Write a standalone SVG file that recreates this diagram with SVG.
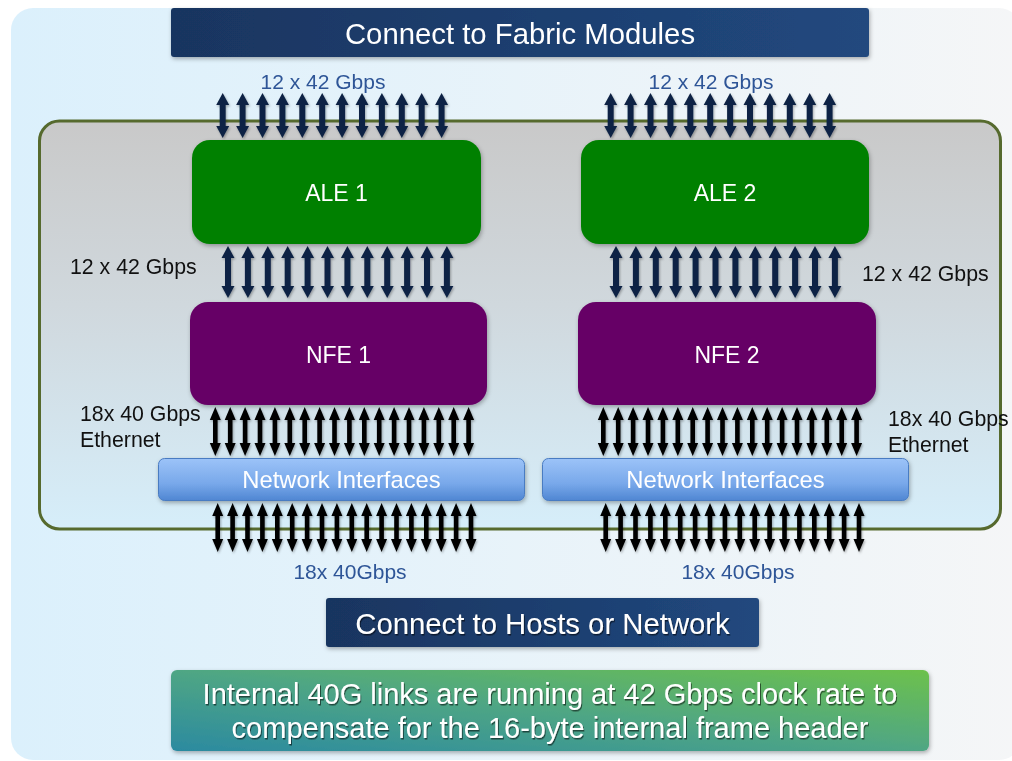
<svg xmlns="http://www.w3.org/2000/svg" width="1012" height="761" viewBox="0 0 1012 761">
  <defs>
    <linearGradient id="bgGrad" x1="0" y1="0" x2="1" y2="0">
      <stop offset="0" stop-color="#dbf0fc"/>
      <stop offset="1" stop-color="#f5f6f7"/>
    </linearGradient>
    <linearGradient id="chassisGrad" x1="0" y1="0" x2="0" y2="1">
      <stop offset="0" stop-color="#c9c9c9"/>
      <stop offset="0.45" stop-color="#d0d8dd"/>
      <stop offset="1" stop-color="#d6eefa"/>
    </linearGradient>
    <linearGradient id="navyGrad" x1="0" y1="0" x2="1" y2="0">
      <stop offset="0" stop-color="#193560"/>
      <stop offset="1" stop-color="#21487e"/>
    </linearGradient>
    <linearGradient id="niGrad" x1="0" y1="0" x2="0" y2="1">
      <stop offset="0" stop-color="#9cc3f8"/>
      <stop offset="0.6" stop-color="#78a8ea"/>
      <stop offset="1" stop-color="#4f86d2"/>
    </linearGradient>
    <linearGradient id="noteGrad" x1="0" y1="1" x2="1" y2="0">
      <stop offset="0" stop-color="#2b8aa0"/>
      <stop offset="0.5" stop-color="#4fa684"/>
      <stop offset="1" stop-color="#6dc14c"/>
    </linearGradient>
    <filter id="shadow" x="-10%" y="-10%" width="120%" height="130%">
      <feDropShadow dx="1" dy="2" stdDeviation="2" flood-color="#000" flood-opacity="0.3"/>
    </filter>
    <filter id="arrowShadow" x="-50%" y="-20%" width="200%" height="140%">
      <feDropShadow dx="1" dy="1.5" stdDeviation="1.2" flood-color="#000" flood-opacity="0.3"/>
    </filter>
    <filter id="textShadow" x="-5%" y="-20%" width="110%" height="150%">
      <feDropShadow dx="1" dy="1.5" stdDeviation="0.6" flood-color="#000" flood-opacity="0.55"/>
    </filter>
    <!-- double-headed link arrows -->
    <path id="arrowTop" d="M0,0 L6.5,12 L3,12 L3,33 L6.5,33 L0,45 L-6.5,33 L-3,33 L-3,12 L-6.5,12 Z"/>
    <path id="arrowMid" d="M0,0 L6.5,12 L3,12 L3,40 L6.5,40 L0,52 L-6.5,40 L-3,40 L-3,12 L-6.5,12 Z"/>
    <path id="arrowEth" d="M0,0 L5.5,13 L2.3,13 L2.3,36 L5.5,36 L0,49 L-5.5,36 L-2.3,36 L-2.3,13 L-5.5,13 Z"/>
  </defs>
  <style>
    .lbl { font-family: "Liberation Sans", Arial, sans-serif; }
    .white { fill: #ffffff; }
    .blue { fill: #2e5597; font-size: 21px; }
    .black { fill: #111111; font-size: 21.3px; }
    .chip { font-size: 23px; }
    .navyArrow { fill: #0e2444; }
    .blackArrow { fill: #000000; }
  </style>

  <!-- page background panel -->
  <rect x="11" y="8" width="1010" height="752" rx="22" fill="url(#bgGrad)"/>

  <!-- line card chassis -->
  <g id="chassis">
    <rect x="39.5" y="121" width="961" height="408" rx="20" fill="url(#chassisGrad)" stroke="#566a2e" stroke-width="3"/>
  </g>

  <!-- fabric module header -->
  <g id="fabric-header" filter="url(#shadow)">
    <rect x="171" y="8" width="698" height="49" rx="3" fill="url(#navyGrad)"/>
    <text class="lbl white" x="520" y="44" font-size="29.3" text-anchor="middle">Connect to Fabric Modules</text>
  </g>

  <!-- connectors -->
  <g id="connectors">
    <g class="navyArrow" filter="url(#arrowShadow)">
      <!-- fabric to ALE 1 -->
      <use href="#arrowTop" x="222.7" y="93"/><use href="#arrowTop" x="242.6" y="93"/><use href="#arrowTop" x="262.5" y="93"/><use href="#arrowTop" x="282.4" y="93"/><use href="#arrowTop" x="302.3" y="93"/><use href="#arrowTop" x="322.2" y="93"/><use href="#arrowTop" x="342.1" y="93"/><use href="#arrowTop" x="362.0" y="93"/><use href="#arrowTop" x="381.9" y="93"/><use href="#arrowTop" x="401.8" y="93"/><use href="#arrowTop" x="421.7" y="93"/><use href="#arrowTop" x="441.6" y="93"/>
      <!-- fabric to ALE 2 -->
      <use href="#arrowTop" x="610.7" y="93"/><use href="#arrowTop" x="630.6" y="93"/><use href="#arrowTop" x="650.5" y="93"/><use href="#arrowTop" x="670.4" y="93"/><use href="#arrowTop" x="690.3" y="93"/><use href="#arrowTop" x="710.2" y="93"/><use href="#arrowTop" x="730.1" y="93"/><use href="#arrowTop" x="750.0" y="93"/><use href="#arrowTop" x="769.9" y="93"/><use href="#arrowTop" x="789.8" y="93"/><use href="#arrowTop" x="809.7" y="93"/><use href="#arrowTop" x="829.6" y="93"/>
      <!-- ALE 1 to NFE 1 -->
      <use href="#arrowMid" x="228" y="246"/><use href="#arrowMid" x="247.9" y="246"/><use href="#arrowMid" x="267.8" y="246"/><use href="#arrowMid" x="287.7" y="246"/><use href="#arrowMid" x="307.6" y="246"/><use href="#arrowMid" x="327.5" y="246"/><use href="#arrowMid" x="347.4" y="246"/><use href="#arrowMid" x="367.3" y="246"/><use href="#arrowMid" x="387.2" y="246"/><use href="#arrowMid" x="407.1" y="246"/><use href="#arrowMid" x="427.0" y="246"/><use href="#arrowMid" x="446.9" y="246"/>
      <!-- ALE 2 to NFE 2 -->
      <use href="#arrowMid" x="616" y="246"/><use href="#arrowMid" x="635.9" y="246"/><use href="#arrowMid" x="655.8" y="246"/><use href="#arrowMid" x="675.7" y="246"/><use href="#arrowMid" x="695.6" y="246"/><use href="#arrowMid" x="715.5" y="246"/><use href="#arrowMid" x="735.4" y="246"/><use href="#arrowMid" x="755.3" y="246"/><use href="#arrowMid" x="775.2" y="246"/><use href="#arrowMid" x="795.1" y="246"/><use href="#arrowMid" x="815.0" y="246"/><use href="#arrowMid" x="834.9" y="246"/>
    </g>
    <g class="blackArrow" filter="url(#arrowShadow)">
      <!-- NFE 1 to network interfaces -->
      <use href="#arrowEth" x="215.3" y="407"/><use href="#arrowEth" x="230.2" y="407"/><use href="#arrowEth" x="245.1" y="407"/><use href="#arrowEth" x="260.0" y="407"/><use href="#arrowEth" x="274.9" y="407"/><use href="#arrowEth" x="289.8" y="407"/><use href="#arrowEth" x="304.7" y="407"/><use href="#arrowEth" x="319.6" y="407"/><use href="#arrowEth" x="334.5" y="407"/><use href="#arrowEth" x="349.4" y="407"/><use href="#arrowEth" x="364.3" y="407"/><use href="#arrowEth" x="379.2" y="407"/><use href="#arrowEth" x="394.1" y="407"/><use href="#arrowEth" x="409.0" y="407"/><use href="#arrowEth" x="423.9" y="407"/><use href="#arrowEth" x="438.8" y="407"/><use href="#arrowEth" x="453.7" y="407"/><use href="#arrowEth" x="468.6" y="407"/>
      <!-- NFE 2 to network interfaces -->
      <use href="#arrowEth" x="603.3" y="407"/><use href="#arrowEth" x="618.2" y="407"/><use href="#arrowEth" x="633.1" y="407"/><use href="#arrowEth" x="648.0" y="407"/><use href="#arrowEth" x="662.9" y="407"/><use href="#arrowEth" x="677.8" y="407"/><use href="#arrowEth" x="692.7" y="407"/><use href="#arrowEth" x="707.6" y="407"/><use href="#arrowEth" x="722.5" y="407"/><use href="#arrowEth" x="737.4" y="407"/><use href="#arrowEth" x="752.3" y="407"/><use href="#arrowEth" x="767.2" y="407"/><use href="#arrowEth" x="782.1" y="407"/><use href="#arrowEth" x="797.0" y="407"/><use href="#arrowEth" x="811.9" y="407"/><use href="#arrowEth" x="826.8" y="407"/><use href="#arrowEth" x="841.7" y="407"/><use href="#arrowEth" x="856.6" y="407"/>
      <!-- left front-panel ports -->
      <use href="#arrowEth" x="217.7" y="503"/><use href="#arrowEth" x="232.6" y="503"/><use href="#arrowEth" x="247.5" y="503"/><use href="#arrowEth" x="262.4" y="503"/><use href="#arrowEth" x="277.3" y="503"/><use href="#arrowEth" x="292.2" y="503"/><use href="#arrowEth" x="307.1" y="503"/><use href="#arrowEth" x="322.0" y="503"/><use href="#arrowEth" x="336.9" y="503"/><use href="#arrowEth" x="351.8" y="503"/><use href="#arrowEth" x="366.7" y="503"/><use href="#arrowEth" x="381.6" y="503"/><use href="#arrowEth" x="396.5" y="503"/><use href="#arrowEth" x="411.4" y="503"/><use href="#arrowEth" x="426.3" y="503"/><use href="#arrowEth" x="441.2" y="503"/><use href="#arrowEth" x="456.1" y="503"/><use href="#arrowEth" x="471.0" y="503"/>
      <!-- right front-panel ports -->
      <use href="#arrowEth" x="605.7" y="503"/><use href="#arrowEth" x="620.6" y="503"/><use href="#arrowEth" x="635.5" y="503"/><use href="#arrowEth" x="650.4" y="503"/><use href="#arrowEth" x="665.3" y="503"/><use href="#arrowEth" x="680.2" y="503"/><use href="#arrowEth" x="695.1" y="503"/><use href="#arrowEth" x="710.0" y="503"/><use href="#arrowEth" x="724.9" y="503"/><use href="#arrowEth" x="739.8" y="503"/><use href="#arrowEth" x="754.7" y="503"/><use href="#arrowEth" x="769.6" y="503"/><use href="#arrowEth" x="784.5" y="503"/><use href="#arrowEth" x="799.4" y="503"/><use href="#arrowEth" x="814.3" y="503"/><use href="#arrowEth" x="829.2" y="503"/><use href="#arrowEth" x="844.1" y="503"/><use href="#arrowEth" x="859.0" y="503"/>
    </g>
  </g>

  <!-- ASICs -->
  <g id="ale1" filter="url(#shadow)">
    <rect x="192" y="140" width="289" height="104" rx="18" fill="#008000"/>
    <text class="lbl white chip" x="336.5" y="201" text-anchor="middle">ALE 1</text>
  </g>
  <g id="ale2" filter="url(#shadow)">
    <rect x="581" y="140" width="288" height="104" rx="18" fill="#008000"/>
    <text class="lbl white chip" x="725" y="201" text-anchor="middle">ALE 2</text>
  </g>
  <g id="nfe1" filter="url(#shadow)">
    <rect x="190" y="302" width="297" height="103" rx="18" fill="#660066"/>
    <text class="lbl white chip" x="338.5" y="363" text-anchor="middle">NFE 1</text>
  </g>
  <g id="nfe2" filter="url(#shadow)">
    <rect x="578" y="302" width="298" height="103" rx="18" fill="#660066"/>
    <text class="lbl white chip" x="727" y="363" text-anchor="middle">NFE 2</text>
  </g>

  <!-- front-panel interface blocks -->
  <g id="ni1" filter="url(#shadow)">
    <rect x="158.5" y="458.5" width="366" height="42" rx="6" fill="url(#niGrad)" stroke="#4a7cc2" stroke-width="1"/>
    <text class="lbl white" x="341.5" y="488" font-size="23.8" text-anchor="middle">Network Interfaces</text>
  </g>
  <g id="ni2" filter="url(#shadow)">
    <rect x="542.5" y="458.5" width="366" height="42" rx="6" fill="url(#niGrad)" stroke="#4a7cc2" stroke-width="1"/>
    <text class="lbl white" x="725.5" y="488" font-size="23.8" text-anchor="middle">Network Interfaces</text>
  </g>

  <!-- link labels -->
  <g id="labels">
    <text class="lbl blue" x="323" y="89" text-anchor="middle">12 x 42 Gbps</text>
    <text class="lbl blue" x="711" y="89" text-anchor="middle">12 x 42 Gbps</text>
    <text class="lbl black" x="70" y="274">12 x 42 Gbps</text>
    <text class="lbl black" x="862" y="281">12 x 42 Gbps</text>
    <text class="lbl black" x="80" y="421">18x 40 Gbps</text>
    <text class="lbl black" x="80" y="447">Ethernet</text>
    <text class="lbl black" x="888" y="426">18x 40 Gbps</text>
    <text class="lbl black" x="888" y="452">Ethernet</text>
    <text class="lbl blue" x="350" y="579" text-anchor="middle">18x 40Gbps</text>
    <text class="lbl blue" x="738" y="579" text-anchor="middle">18x 40Gbps</text>
  </g>

  <!-- host side header -->
  <g id="hosts-header" filter="url(#shadow)">
    <rect x="326" y="598" width="433" height="49" rx="3" fill="url(#navyGrad)"/>
    <text class="lbl white" x="542.5" y="634" font-size="29.3" text-anchor="middle" filter="url(#textShadow)">Connect to Hosts or Network</text>
  </g>

  <!-- note -->
  <g id="note" filter="url(#shadow)">
    <rect x="171" y="670" width="758" height="81" rx="6" fill="url(#noteGrad)"/>
    <text class="lbl white" x="550" y="704" font-size="29" text-anchor="middle" filter="url(#textShadow)">Internal 40G links are running at 42 Gbps clock rate to</text>
    <text class="lbl white" x="550" y="738" font-size="29" text-anchor="middle" filter="url(#textShadow)">compensate for the 16-byte internal frame header</text>
  </g>
</svg>
